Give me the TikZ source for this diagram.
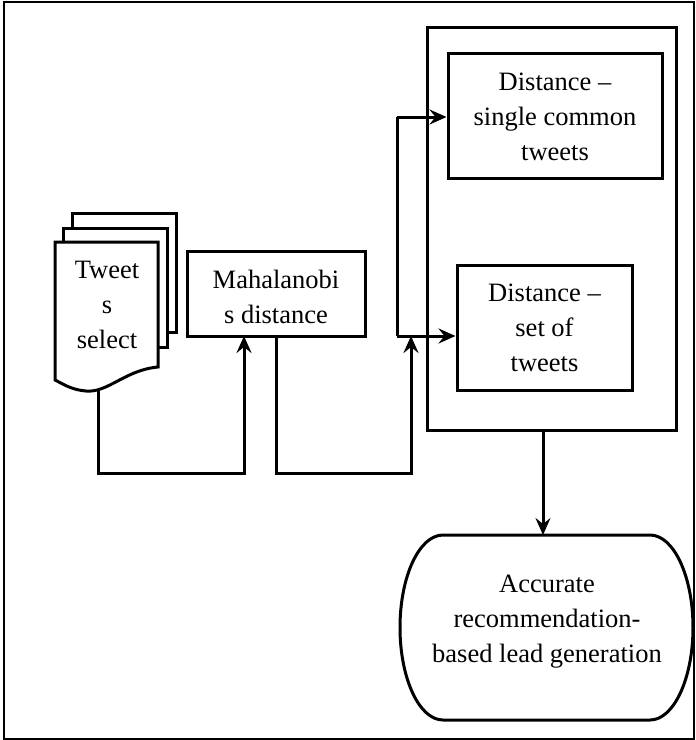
\documentclass[tikz,border=0pt]{standalone}
\usepackage{fontspec}
\setmainfont{Liberation Serif}
\usetikzlibrary{arrows.meta}
\begin{document}
\begin{tikzpicture}[x=1pt,y=-1pt,
  line width=3pt, line join=miter,
  txt/.style={font=\fontsize{26.5}{35}\selectfont, align=center, inner sep=0pt},
  boxn/.style={draw, rectangle, inner sep=0pt, line width=3pt},
  conn/.style={line width=3pt, -{Stealth[length=17pt,width=15pt,inset=6pt]}}]
\useasboundingbox (0,0) rectangle (696,740);
% outer frame
\draw[line width=2pt] (4,2) rectangle (694,739);
% document stack
\draw[fill=white] (72,213) rectangle (176,332);
\draw[fill=white] (63,228) rectangle (167,347);
\draw[fill=white] (55,242) -- (158,242) -- (158,367)
   .. controls (125,370) and (108,393) .. (86,391)
   .. controls (72,390) and (63,384) .. (55,380) -- cycle;
\node[txt] (doc) at (107,305) {Tweet\\s\\select};
\coordinate (docb) at (98,390);
% Mahalanobis
\node[boxn, minimum width=178pt, minimum height=85pt] (mah) at (276,293.5) {};
\node[txt] (mahtxt) at (276,296.5) {Mahalanobi\\s distance};
% container
\node[boxn, minimum width=249pt, minimum height=403pt] (cont) at (551.5,228.5) {};
% single common
\node[boxn, minimum width=214pt, minimum height=125pt] (single) at (555,115.5) {};
\node[txt] (singletxt) at (555,117) {Distance –\\single common\\tweets};
% set of tweets
\node[boxn, minimum width=175pt, minimum height=125pt] (set) at (544.5,327.5) {};
\node[txt] (settxt) at (544.5,328) {Distance –\\set of\\tweets};
% terminal
\draw (443,535) -- (650,535)
  .. controls (673.7,535) and (693,576.4) .. (693,627.5)
  .. controls (693,678.6) and (673.7,720) .. (650,720)
  -- (443,720)
  .. controls (419.3,720) and (400,678.6) .. (400,627.5)
  .. controls (400,576.4) and (419.3,535) .. (443,535) -- cycle;
\node[txt] (term) at (547,622) {Accurate\\recommendation-\\based lead generation};
\coordinate (termtop) at (543,535);
% connectors
\coordinate (m1) at (244,336);
\coordinate (jt) at (397,117);
\coordinate (jb) at (397,336);
\coordinate (ju) at (411,336);
\coordinate (cb) at (543,430);
\draw[conn] (docb) -- (98,473) -- (244,473) -- (m1);
\draw[conn] (mah.south) -- (276,473) -- (411,473) -- (ju);
\draw (jt) -- (jb);
\draw[conn] (jt) -- (single.west |- jt);
\draw[conn] (jb) -- (set.west |- jb);
\draw[conn] (cb) -- (termtop);
\end{tikzpicture}
\end{document}
